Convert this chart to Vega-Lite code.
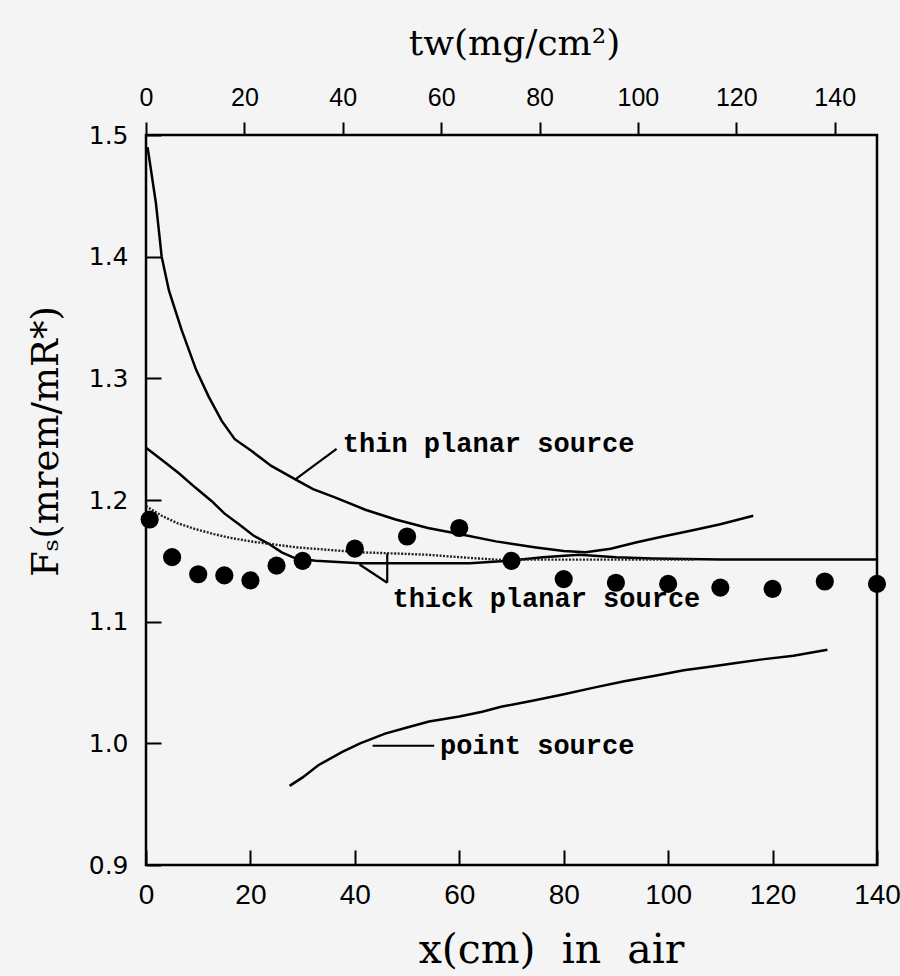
{
  "$schema": "https://vega.github.io/schema/vega-lite/v6.json",
  "width": 731,
  "height": 730,
  "autosize": {"type": "none"},
  "padding": {"left": 146, "top": 135, "right": 23, "bottom": 111},
  "background": "#f4f4f4",
  "config": {
    "view": {"stroke": "#000", "strokeWidth": 2.5},
    "axis": {"domain": false, "grid": false, "tickColor": "#000", "tickWidth": 2, "labelColor": "#000", "titleColor": "#000", "titleFontWeight": "normal"}
  },
  "datasets": {
    "curves": [
      {"series": "thin", "x": 0.3, "y": 1.49},
      {"series": "thin", "x": 1.9, "y": 1.444},
      {"series": "thin", "x": 3, "y": 1.40},
      {"series": "thin", "x": 4.4, "y": 1.372},
      {"series": "thin", "x": 6.8, "y": 1.340},
      {"series": "thin", "x": 9.6, "y": 1.307},
      {"series": "thin", "x": 12, "y": 1.285},
      {"series": "thin", "x": 14.5, "y": 1.265},
      {"series": "thin", "x": 17, "y": 1.250},
      {"series": "thin", "x": 20.3, "y": 1.240},
      {"series": "thin", "x": 24, "y": 1.228},
      {"series": "thin", "x": 28.6, "y": 1.217},
      {"series": "thin", "x": 32, "y": 1.209},
      {"series": "thin", "x": 36.3, "y": 1.202},
      {"series": "thin", "x": 42, "y": 1.192},
      {"series": "thin", "x": 47.8, "y": 1.184},
      {"series": "thin", "x": 54, "y": 1.177},
      {"series": "thin", "x": 60, "y": 1.172},
      {"series": "thin", "x": 67, "y": 1.166},
      {"series": "thin", "x": 74.7, "y": 1.161},
      {"series": "thin", "x": 80, "y": 1.158},
      {"series": "thin", "x": 84.2, "y": 1.157},
      {"series": "thin", "x": 89, "y": 1.160},
      {"series": "thin", "x": 93.8, "y": 1.165},
      {"series": "thin", "x": 99, "y": 1.170},
      {"series": "thin", "x": 104.5, "y": 1.175},
      {"series": "thin", "x": 110, "y": 1.180},
      {"series": "thin", "x": 116.3, "y": 1.187},
      {"series": "thick", "x": 0, "y": 1.243},
      {"series": "thick", "x": 3, "y": 1.233},
      {"series": "thick", "x": 6.3, "y": 1.222},
      {"series": "thick", "x": 9.5, "y": 1.210},
      {"series": "thick", "x": 12.6, "y": 1.199},
      {"series": "thick", "x": 15, "y": 1.189},
      {"series": "thick", "x": 17.8, "y": 1.180},
      {"series": "thick", "x": 20.5, "y": 1.171},
      {"series": "thick", "x": 23.5, "y": 1.164},
      {"series": "thick", "x": 26, "y": 1.157},
      {"series": "thick", "x": 28.6, "y": 1.152},
      {"series": "thick", "x": 32.5, "y": 1.150},
      {"series": "thick", "x": 41, "y": 1.148},
      {"series": "thick", "x": 54, "y": 1.148},
      {"series": "thick", "x": 62, "y": 1.148},
      {"series": "thick", "x": 69.5, "y": 1.150},
      {"series": "thick", "x": 76, "y": 1.153},
      {"series": "thick", "x": 83, "y": 1.155},
      {"series": "thick", "x": 90, "y": 1.153},
      {"series": "thick", "x": 97, "y": 1.152},
      {"series": "thick", "x": 110, "y": 1.151},
      {"series": "thick", "x": 125, "y": 1.151},
      {"series": "thick", "x": 140, "y": 1.151},
      {"series": "point", "x": 27.5, "y": 0.965},
      {"series": "point", "x": 30, "y": 0.972},
      {"series": "point", "x": 33, "y": 0.982},
      {"series": "point", "x": 37.6, "y": 0.993},
      {"series": "point", "x": 41, "y": 1.000},
      {"series": "point", "x": 45.8, "y": 1.008},
      {"series": "point", "x": 50, "y": 1.013},
      {"series": "point", "x": 54.2, "y": 1.018},
      {"series": "point", "x": 60, "y": 1.022},
      {"series": "point", "x": 64.4, "y": 1.026},
      {"series": "point", "x": 68, "y": 1.030},
      {"series": "point", "x": 74, "y": 1.035},
      {"series": "point", "x": 79.6, "y": 1.040},
      {"series": "point", "x": 86, "y": 1.046},
      {"series": "point", "x": 91.6, "y": 1.051},
      {"series": "point", "x": 98, "y": 1.056},
      {"series": "point", "x": 103, "y": 1.060},
      {"series": "point", "x": 108, "y": 1.063},
      {"series": "point", "x": 113, "y": 1.066},
      {"series": "point", "x": 118, "y": 1.069},
      {"series": "point", "x": 124, "y": 1.072},
      {"series": "point", "x": 130.5, "y": 1.077},
      {"series": "dotted", "x": 0, "y": 1.195},
      {"series": "dotted", "x": 3, "y": 1.187},
      {"series": "dotted", "x": 6, "y": 1.181},
      {"series": "dotted", "x": 9.5, "y": 1.176},
      {"series": "dotted", "x": 13, "y": 1.172},
      {"series": "dotted", "x": 16, "y": 1.169},
      {"series": "dotted", "x": 20, "y": 1.166},
      {"series": "dotted", "x": 23.5, "y": 1.164},
      {"series": "dotted", "x": 29, "y": 1.161},
      {"series": "dotted", "x": 35, "y": 1.159},
      {"series": "dotted", "x": 41, "y": 1.157},
      {"series": "dotted", "x": 48, "y": 1.156},
      {"series": "dotted", "x": 54, "y": 1.155},
      {"series": "dotted", "x": 60, "y": 1.153},
      {"series": "dotted", "x": 67, "y": 1.151},
      {"series": "dotted", "x": 80, "y": 1.151},
      {"series": "dotted", "x": 90, "y": 1.151},
      {"series": "dotted", "x": 105, "y": 1.151}
    ],
    "measured": [
      {"x": 0.7, "y": 1.184},
      {"x": 5, "y": 1.153},
      {"x": 10, "y": 1.139},
      {"x": 15, "y": 1.138},
      {"x": 20, "y": 1.134},
      {"x": 25, "y": 1.146},
      {"x": 30, "y": 1.150},
      {"x": 40, "y": 1.160},
      {"x": 50, "y": 1.170},
      {"x": 60, "y": 1.177},
      {"x": 70, "y": 1.150},
      {"x": 80, "y": 1.135},
      {"x": 90, "y": 1.132},
      {"x": 100, "y": 1.131},
      {"x": 110, "y": 1.128},
      {"x": 120, "y": 1.127},
      {"x": 130, "y": 1.133},
      {"x": 140, "y": 1.131}
    ],
    "leaders": [
      {"x": 28.6, "y": 1.217, "x2": 36.5, "y2": 1.242},
      {"x": 40.9, "y": 1.147, "x2": 46.2, "y2": 1.132},
      {"x": 46.2, "y": 1.156, "x2": 46.2, "y2": 1.132},
      {"x": 43.4, "y": 0.998, "x2": 55.2, "y2": 0.998}
    ],
    "labels": [
      {"x": 37.7, "y": 1.246, "text": "thin planar source"},
      {"x": 47.2, "y": 1.119, "text": "thick planar source"},
      {"x": 56.3, "y": 0.998, "text": "point source"}
    ],
    "top": [
      {"tw": 0}, {"tw": 20}, {"tw": 40}, {"tw": 60}, {"tw": 80}, {"tw": 100}, {"tw": 120}, {"tw": 140}
    ]
  },
  "layer": [
    {
      "layer": [
        {
          "data": {"name": "curves"},
          "transform": [{"filter": "datum.series !== 'dotted'"}],
          "mark": {"type": "line", "color": "#000", "strokeWidth": 2.5},
          "encoding": {
            "x": {"field": "x", "type": "quantitative", "scale": {"domain": [0, 140], "nice": false},
              "axis": {"orient": "bottom", "values": [0, 20, 40, 60, 80, 100, 120, 140], "offset": -15, "tickSize": 15, "labelPadding": 16,
                "labelFont": "Liberation Sans", "labelFontSize": 28, "labelFlush": false,
                "title": "x(cm)\u00a0\u00a0in\u00a0\u00a0air", "titleFont": "DejaVu Serif", "titleFontSize": 41,
                "titleX": 405, "titleY": 100, "titleAlign": "center", "titleBaseline": "middle"}},
            "y": {"field": "y", "type": "quantitative", "scale": {"domain": [0.9, 1.5], "nice": false, "zero": false},
              "axis": {"values": [0.9, 1.0, 1.1, 1.2, 1.3, 1.4, 1.5], "format": ".1f", "offset": -15, "tickSize": 15, "labelPadding": 18,
                "labelFont": "DejaVu Sans", "labelFontSize": 25, "labelFlush": false,
                "title": "Fₛ(mrem/mR*)", "titleFont": "DejaVu Serif", "titleFontSize": 37,
                "titleX": -115, "titleY": 306, "titleAngle": -90, "titleAlign": "center", "titleBaseline": "middle"}},
            "detail": {"field": "series"}
          }
        },
        {
          "data": {"name": "curves"},
          "transform": [{"filter": "datum.series === 'dotted'"}],
          "mark": {"type": "line", "color": "#222", "strokeWidth": 2.4, "strokeDash": [2, 1.5]},
          "encoding": {
            "x": {"field": "x", "type": "quantitative"},
            "y": {"field": "y", "type": "quantitative"}
          }
        },
        {
          "data": {"name": "measured"},
          "mark": {"type": "circle", "color": "#000", "opacity": 1, "size": 330},
          "encoding": {
            "x": {"field": "x", "type": "quantitative"},
            "y": {"field": "y", "type": "quantitative"}
          }
        },
        {
          "data": {"name": "leaders"},
          "mark": {"type": "rule", "color": "#000", "strokeWidth": 2.2},
          "encoding": {
            "x": {"field": "x", "type": "quantitative"},
            "y": {"field": "y", "type": "quantitative"},
            "x2": {"field": "x2"},
            "y2": {"field": "y2"}
          }
        },
        {
          "data": {"name": "labels"},
          "mark": {"type": "text", "align": "left", "baseline": "middle", "font": "Liberation Mono", "fontSize": 27, "fontWeight": "bold", "color": "#000"},
          "encoding": {
            "x": {"field": "x", "type": "quantitative"},
            "y": {"field": "y", "type": "quantitative"},
            "text": {"field": "text"}
          }
        }
      ]
    },
    {
      "data": {"name": "top"},
      "mark": {"type": "point", "opacity": 0},
      "encoding": {
        "x": {"field": "tw", "type": "quantitative", "scale": {"domain": [0, 148.6], "nice": false},
          "axis": {"orient": "top", "values": [0, 20, 40, 60, 80, 100, 120, 140], "tickSize": 13, "labelPadding": 12,
            "labelFont": "Liberation Sans", "labelFontSize": 25, "labelFlush": false,
            "title": "tw(mg/cm²)", "titleFont": "DejaVu Serif", "titleFontSize": 36,
            "titleX": 368, "titleY": -92, "titleAlign": "center", "titleBaseline": "middle"}}
      }
    }
  ],
  "resolve": {"scale": {"x": "independent"}, "axis": {"x": "independent"}}
}
